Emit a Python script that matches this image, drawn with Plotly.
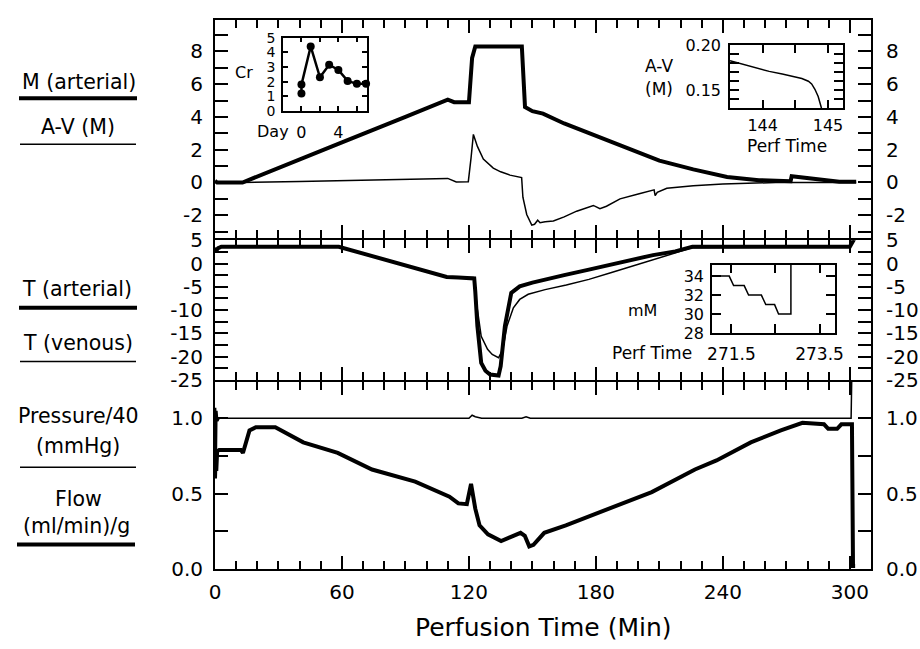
import plotly.graph_objects as go

# ---------------- data ----------------
# Top panel: M (arterial) thick, A-V (M) thin
t_M = [0, 1, 13, 30, 60, 90, 110, 113, 120, 121.5, 123, 145, 146.5, 150, 155, 165,
       179, 195, 210, 226, 242, 257, 272, 272.5, 285, 295, 303]
M_art = [0.1, 0, 0, 0.9, 2.45, 4.0, 5.05, 4.9, 4.9, 7.6, 8.3, 8.3, 4.6, 4.35, 4.2, 3.6,
         2.9, 2.05, 1.33, 0.8, 0.34, 0.14, 0.08, 0.38, 0.2, 0.05, 0.05]

t_AV = [0, 12, 40, 80, 110, 114, 119.7, 121, 122.1, 124, 126.8, 131.5, 135, 139.4, 144.9,
        145.5, 147.3, 149.7, 151, 152.5, 153.6, 156, 159.9, 165, 170.9, 178.8, 181.9, 185,
        191.4, 200, 207.5, 208, 209, 213.5, 226, 240, 249.7, 265, 303]
AV = [0, 0, 0.06, 0.15, 0.25, 0.03, 0.05, 1.5, 2.93, 2.2, 1.43, 0.88, 0.65, 0.45, 0.3,
      -0.9, -1.95, -2.6, -2.55, -2.3, -2.45, -2.4, -2.35, -2.1, -1.75, -1.4, -1.6, -1.45,
      -1.0, -0.7, -0.45, -0.8, -0.6, -0.35, -0.2, -0.1, -0.05, 0, 0]

# Middle panel: T (arterial) thick, T (venous) thin
t_Ta = [0, 0.5, 1.5, 3, 58.5, 85, 109.5, 115, 122, 122.5, 123, 124, 125.8, 127.8, 130, 134,
        135, 137, 140, 144, 150, 156, 165, 176.7, 187, 197, 207, 217.5, 225.6, 300, 302]
T_art = [3.4, 2.7, 3.3, 3.6, 3.6, 0.3, -2.9, -3.0, -3.0, -3.2, -6, -13.4, -21.3, -23, -23.8, -24,
         -22, -13.4, -6.3, -4.9, -4.1, -3.4, -2.5, -1.3, -0.2, 0.86, 1.8, 2.6, 3.6, 3.6, 5.2]

t_Tv = [0, 0.5, 1.5, 3, 58.5, 85, 109.5, 115, 122, 122.7, 124, 125.8, 128.8, 131, 134, 136,
        138, 141, 144, 148, 156, 166, 176.7, 187, 197, 207, 217.5, 225.6, 300, 302]
T_ven = [3.4, 2.7, 3.3, 3.6, 3.6, 0.3, -2.9, -3.0, -3.0, -4.5, -9.9, -15.6, -18.4, -19.5, -20.2,
         -18.4, -13.4, -9.5, -7.7, -6.6, -5.6, -4.6, -3.4, -2.0, -0.6, 0.9, 2.3, 3.4, 3.6, 5.2]

# Bottom panel: Pressure/40 thin, Flow thick
t_P = [0, 0.3, 0.6, 0.9, 1.3, 2, 60, 118, 120, 121.5, 123, 126, 145, 147, 149, 151,
       200, 250, 300, 300.6, 301]
P40 = [0.62, 1.07, 0.7, 1.05, 0.98, 1.0, 1.0, 1.0, 1.0, 1.02, 1.01, 1.0, 1.0, 1.01, 1.0, 1.0,
       1.0, 1.0, 1.0, 1.0, 1.35]

t_F = [0, 0.3, 0.6, 1.0, 2, 12.2, 13.2, 16.3, 19.3, 28.5, 41.7, 58, 74.2, 94.6, 110.8, 115,
       119, 120, 121, 123, 125, 129, 135.2, 139.3, 144.4, 146.4, 148.5, 150.5, 155.6, 165.8,
       186, 206.4, 226.8, 237, 253.2, 267.4, 277.6, 287.8, 289.8, 294, 296, 301, 301.5, 302.5]
Flow = [0.6, 0.75, 0.65, 0.78, 0.79, 0.79, 0.77, 0.92, 0.94, 0.94, 0.84, 0.77, 0.66, 0.58, 0.48,
        0.435, 0.43, 0.5, 0.565, 0.40, 0.29, 0.23, 0.185, 0.21, 0.24, 0.22, 0.15, 0.16, 0.24,
        0.29, 0.40, 0.51, 0.66, 0.72, 0.84, 0.92, 0.97, 0.96, 0.93, 0.93, 0.96, 0.96, 0.02, 0.02]

# Inset 1: creatinine by day
cr_day = [0, 0, 1, 2, 3, 4, 5, 6, 7]
cr_val = [1.2, 1.8, 4.4, 2.3, 3.15, 2.8, 2.05, 1.85, 1.85]

# Inset 2: A-V (M) near 144-145 min
av_t = [143.5, 143.7, 143.9, 144.1, 144.3, 144.5, 144.6, 144.7, 144.75, 144.8, 144.85, 144.9]
av_v = [0.183, 0.179, 0.175, 0.171, 0.168, 0.165, 0.163, 0.160, 0.157, 0.151, 0.143, 0.130]

# Inset 3: mM near 271.5-273.5 min
mm_t = [271.06, 271.45, 271.55, 271.79, 271.89, 272.18, 272.28, 272.48, 272.57, 272.85, 272.85]
mm_v = [34, 34, 33, 33, 32, 32, 31, 31, 30, 30, 36]

# tick values / labels
top_tickvals = [-3, -2, -1, 0, 1, 2, 3, 4, 5, 6, 7, 8, 9]
top_ticktext = ["", "-2", "", "0", "", "2", "", "4", "", "6", "", "8", ""]
mid_tickvals = [-25, -22.5, -20, -17.5, -15, -12.5, -10, -7.5, -5, -2.5, 0, 2.5, 5]
mid_ticktext = ["-25", "", "-20", "", "-15", "", "-10", "", "-5", "", "0", "", "5"]
bot_tickvals = [0, 0.25, 0.5, 0.75, 1.0]
bot_ticktext = ["0.0", "", "0.5", "", "1.0"]

cr_xvals, cr_xtext = [0, 2, 4, 6], ["0", "", "4", ""]
cr_yvals, cr_ytext = [0, 1, 2, 3, 4, 5], ["0", "1", "2", "3", "4", "5"]
av_xvals, av_xtext = [144, 144.5, 145], ["144", "", "145"]
av_yvals = [0.14, 0.15, 0.16, 0.17, 0.18, 0.19, 0.20]
av_ytext = ["", "0.15", "", "", "", "", "0.20"]
mm_xvals, mm_xtext = [271.5, 272.5, 273.5], ["271.5", "", "273.5"]
mm_yvals, mm_ytext = [28, 30, 32, 34], ["28", "30", "32", "34"]

# ---------------- layout helpers ----------------
W, H = 920, 649
PL, PR, PT, PB = 215, 871, 8, 569
B1, B2 = 232, 377   # panel boundaries (pixels from top)


def px(x):
    return (x - PL) / (PR - PL)


def py(y):
    return (PB - y) / (PB - PT)


FONT = "DejaVu Sans, Verdana, sans-serif"
BLK = "black"
thick = dict(color=BLK, width=4)
thin = dict(color=BLK, width=1.5)

fig = go.Figure()

fig.add_trace(go.Scatter(x=t_M, y=M_art, mode="lines", line=thick, xaxis="x3", yaxis="y3"))
fig.add_trace(go.Scatter(x=t_AV, y=AV, mode="lines", line=thin, xaxis="x3", yaxis="y3"))
fig.add_trace(go.Scatter(x=t_Tv, y=T_ven, mode="lines", line=thin, xaxis="x2", yaxis="y2"))
fig.add_trace(go.Scatter(x=t_Ta, y=T_art, mode="lines", line=thick, xaxis="x2", yaxis="y2"))
fig.add_trace(go.Scatter(x=t_P, y=P40, mode="lines", line=thin, xaxis="x", yaxis="y"))
fig.add_trace(go.Scatter(x=t_F, y=Flow, mode="lines", line=thick, xaxis="x", yaxis="y"))

fig.add_trace(go.Scatter(x=cr_day, y=cr_val, mode="lines+markers",
                         line=dict(color=BLK, width=2.5), marker=dict(color=BLK, size=8),
                         xaxis="x4", yaxis="y7", cliponaxis=False))
fig.add_trace(go.Scatter(x=av_t, y=av_v, mode="lines", line=dict(color=BLK, width=1.5),
                         xaxis="x5", yaxis="y8"))
fig.add_trace(go.Scatter(x=mm_t, y=mm_v, mode="lines", line=dict(color=BLK, width=1.5),
                         xaxis="x6", yaxis="y9"))

tickfont = dict(size=20, family=FONT, color=BLK)


def main_x(anchor, labels):
    d = dict(range=[0, 310], anchor=anchor, showline=True, linecolor=BLK, linewidth=2,
             mirror="allticks", ticks="inside", tickmode="linear", tick0=0, dtick=60,
             ticklen=13, tickwidth=1.5, tickcolor=BLK,
             minor=dict(ticks="inside", dtick=10, ticklen=8, tickwidth=1.5, tickcolor=BLK),
             showgrid=False, zeroline=False, showticklabels=labels, tickfont=tickfont,
             ticklabelstandoff=4)
    if anchor != "y":
        d["matches"] = "x"
    return d


def main_y(domain, rng, vals, text, anchor):
    return dict(domain=domain, range=rng, anchor=anchor, showline=True, linecolor=BLK,
                linewidth=2, mirror="allticks", ticks="inside", tickmode="array",
                tickvals=vals, ticktext=text, ticklen=13, tickwidth=1.5, tickcolor=BLK,
                showgrid=False, zeroline=False, tickfont=tickfont, ticklabelstandoff=6)


def inset_axis(domain, anchor, rng, vals, text, ticklen, size, standoff):
    return dict(domain=domain, anchor=anchor, range=rng, showline=True, linecolor=BLK,
                linewidth=1.5, mirror="allticks", ticks="inside", ticklen=ticklen,
                tickwidth=1.5, tickcolor=BLK, tickmode="array", tickvals=vals,
                ticktext=text, showgrid=False, zeroline=False,
                tickfont=dict(size=size, family=FONT, color=BLK),
                ticklabelstandoff=standoff)


R_BOT = [0, 1.24]
R_MID = [-25, 5]
R_TOP = [-3.40, 9.91]
D_TOP = [py(B1 - 1), 1]
D_MID = [py(B2 - 1), py(B1 + 1)]
D_BOT = [0, py(B2 + 1)]

layout = dict(
    width=W, height=H, margin=dict(l=PL, r=W - PR, t=PT, b=H - PB, pad=0),
    paper_bgcolor="white", plot_bgcolor="rgba(0,0,0,0)", showlegend=False,
    font=dict(family=FONT, color=BLK),
    xaxis=main_x("y", True), xaxis2=main_x("y2", False), xaxis3=main_x("y3", False),
    yaxis=main_y(D_BOT, R_BOT, bot_tickvals, bot_ticktext, "x"),
    yaxis2=main_y(D_MID, R_MID, mid_tickvals, mid_ticktext, "x2"),
    yaxis3=main_y(D_TOP, R_TOP, top_tickvals, top_ticktext, "x3"),
    # Cr inset
    xaxis4=inset_axis([px(283), px(367)], "y7", [-2, 7.1], cr_xvals, cr_xtext, 5, 16, 6),
    yaxis7=inset_axis([py(101), py(26)], "x4", [0, 5], cr_yvals, cr_ytext, 5, 14, 3),
    # A-V inset
    xaxis5=inset_axis([px(730), px(843)], "y8", [143.5, 145.23], av_xvals, av_xtext, 8, 16, 2),
    yaxis8=inset_axis([py(98), py(34)], "x5", [0.13, 0.20], av_yvals, av_ytext, 9, 16, 4),
    # mM inset
    xaxis6=inset_axis([px(712), px(835)], "y9", [271.06, 273.85], mm_xvals, mm_xtext, 9, 17, 5),
    yaxis9=inset_axis([py(328), py(258)], "x6", [28, 35.2], mm_yvals, mm_ytext, 9, 16, 3),
)
fig.update_layout(**layout)

# right-hand tick labels, placed through each panel's own y axis
for yref, vals, text in (("y", bot_tickvals, bot_ticktext),
                         ("y2", mid_tickvals, mid_ticktext),
                         ("y3", top_tickvals, top_ticktext)):
    for v, t in zip(vals, text):
        if t:
            fig.add_annotation(x=px(884), xref="paper", y=v, yref=yref, text=t,
                               showarrow=False, xanchor="left", yanchor="middle",
                               font=tickfont)


def ann(x, y, text, size=20.5, xanchor="center"):
    fig.add_annotation(x=px(x), y=py(y), xref="paper", yref="paper", text=text,
                       showarrow=False, xanchor=xanchor, yanchor="middle",
                       font=dict(size=size, family=FONT, color=BLK))


def hline(x0, x1, y, w):
    fig.add_shape(type="line", xref="paper", yref="paper", x0=px(x0), x1=px(x1),
                  y0=py(y), y1=py(y), line=dict(color=BLK, width=w))


ann(79, 71, "M (arterial)")
hline(19, 137, 88, 4)
ann(78, 117, "A-V (M)")
hline(20, 136, 135, 1.5)
ann(77, 283, "T (arterial)")
hline(19, 137, 302, 4)
ann(78, 338, "T (venous)")
hline(20, 136, 357, 1.5)
ann(78, 413, "Pressure/40")
ann(78, 443, "(mmHg)")
hline(20, 136, 465, 1.5)
ann(78, 497, "Flow")
ann(76, 525, "(ml/min)/g")
hline(17, 135, 544, 4)

ann(543, 629, "Perfusion Time (Min)", size=25)

ann(244, 62, "Cr", size=16)
ann(291, 122, "Day", size=16, xanchor="right")
ann(659, 55, "A-V", size=17)
ann(659, 78, "(M)", size=17)
ann(787, 137, "Perf Time", size=17)
ann(642, 305, "mM", size=16)
ann(694, 348, "Perf Time", size=17, xanchor="right")

fig.write_html("out.html", config={"displayModeBar": False},
               post_script="document.body.style.margin='0px';")
